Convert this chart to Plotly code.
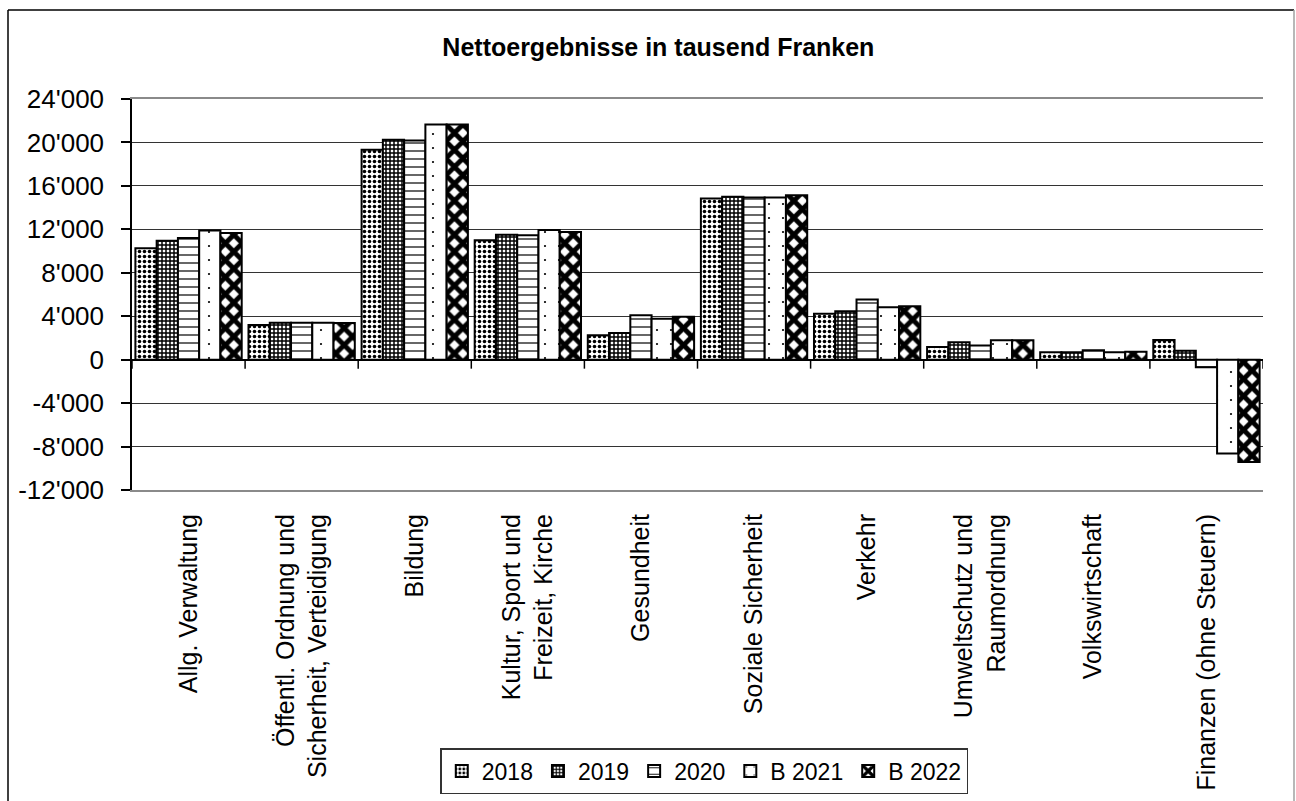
import plotly.graph_objects as go

categories = [
    "Allg. Verwaltung",
    "Öffentl. Ordnung und<br>Sicherheit, Verteidigung",
    "Bildung",
    "Kultur, Sport und<br>Freizeit, Kirche",
    "Gesundheit",
    "Soziale Sicherheit",
    "Verkehr",
    "Umweltschutz und<br>Raumordnung",
    "Volkswirtschaft",
    "Finanzen (ohne Steuern)",
]
series_names = ["2018", "2019", "2020", "B 2021", "B 2022"]
v2018 = [10250, 3200, 19330, 11000, 2250, 14840, 4220, 1170, 680, 1800]
v2019 = [10950, 3400, 20250, 11500, 2460, 14990, 4460, 1600, 690, 820]
v2020 = [11200, 3400, 20170, 11450, 4090, 14930, 5540, 1300, 860, -700]
vB2021 = [11900, 3400, 21650, 11950, 3760, 14930, 4830, 1780, 690, -8640]
vB2022 = [11670, 3370, 21650, 11760, 3940, 15140, 4920, 1780, 720, -9420]
y_tickvals = [-12000, -8000, -4000, 0, 4000, 8000, 12000, 16000, 20000, 24000]
y_ticktext = ["-12'000", "-8'000", "-4'000", "0", "4'000", "8'000", "12'000", "16'000", "20'000", "24'000"]

series_values = [v2018, v2019, v2020, vB2021, vB2022]
patterns = [
    dict(shape=".", size=5, solidity=0.4),
    dict(shape="+", size=4, solidity=0.6),
    dict(shape="-", size=8, solidity=0.15),
    dict(shape=".", size=14, solidity=0.02),
    dict(shape="x", size=12, solidity=0.65),
]

FONT = "Liberation Sans, Arial, sans-serif"
x_idx = list(range(len(categories)))

fig = go.Figure()
for name, vals, pat in zip(series_names, series_values, patterns):
    fig.add_trace(go.Bar(
        name=name, x=x_idx, y=vals,
        marker=dict(
            color="white",
            line=dict(color="black", width=2),
            pattern=dict(fgcolor="black", bgcolor="white", fillmode="replace", **pat),
        ),
    ))

fig.update_layout(
    width=1296, height=801,
    margin=dict(l=132, r=33, t=99, b=311, autoexpand=False),
    paper_bgcolor="white", plot_bgcolor="white",
    barmode="group", bargap=0.06, bargroupgap=0,
    font=dict(family=FONT, color="black", size=25),
    title=dict(
        text="<b>Nettoergebnisse in tausend Franken</b>",
        xref="container", x=0.508, xanchor="center",
        yref="container", y=1 - 47 / 801, yanchor="middle",
        font=dict(family=FONT, size=25, color="black"),
    ),
    showlegend=True,
    legend=dict(
        orientation="h", x=0.506, xanchor="center", y=-0.66, yanchor="top",
        bordercolor="#333", borderwidth=1.5, bgcolor="white",
        font=dict(family=FONT, size=23, color="black"),
        itemsizing="constant",
    ),
    xaxis=dict(
        tickmode="array", tickvals=x_idx, ticktext=categories,
        tickangle=-90, ticks="", ticklabelstandoff=12, automargin=False,
        showline=True, linecolor="#8a8a8a", linewidth=2, mirror=True,
        range=[-0.5, len(categories) - 0.5],
        showgrid=False, zeroline=False,
        tickfont=dict(family=FONT, size=25, color="black"),
    ),
    yaxis=dict(
        range=[-12000, 24000], tickmode="array",
        tickvals=y_tickvals, ticktext=y_ticktext,
        ticks="outside", ticklen=9, tickwidth=1.5, tickcolor="black",
        ticklabelstandoff=12, automargin=False,
        showline=True, linecolor="black", linewidth=1.5,
        showgrid=True, gridcolor="#333", gridwidth=1.3,
        zeroline=True, zerolinecolor="black", zerolinewidth=1.5,
        tickfont=dict(family=FONT, size=26, color="black"),
    ),
)

# category tick marks on the zero line (at category boundaries)
for b in range(len(categories) + 1):
    fig.add_shape(type="line", xref="x", yref="y", x0=b - 0.5, x1=b - 0.5,
                  ysizemode="pixel", yanchor=0, y0=0, y1=-9,
                  line=dict(color="black", width=1.5), layer="above")

# outer chart frame
fx0 = (8 - 132) / 1131
fx1 = (1294 - 132) / 1131
fy1 = (490 - 10) / 391
fig.add_shape(type="line", xref="paper", yref="paper", x0=fx0, x1=fx0, y0=-1.0, y1=fy1,
              line=dict(color="black", width=1.5))
fig.add_shape(type="line", xref="paper", yref="paper", x0=fx0, x1=fx1, y0=fy1, y1=fy1,
              line=dict(color="black", width=1.5))
fig.add_shape(type="line", xref="paper", yref="paper", x0=fx1, x1=fx1, y0=-1.0, y1=fy1,
              line=dict(color="#a0a0a0", width=1.5))

fig.write_html("out.html")
